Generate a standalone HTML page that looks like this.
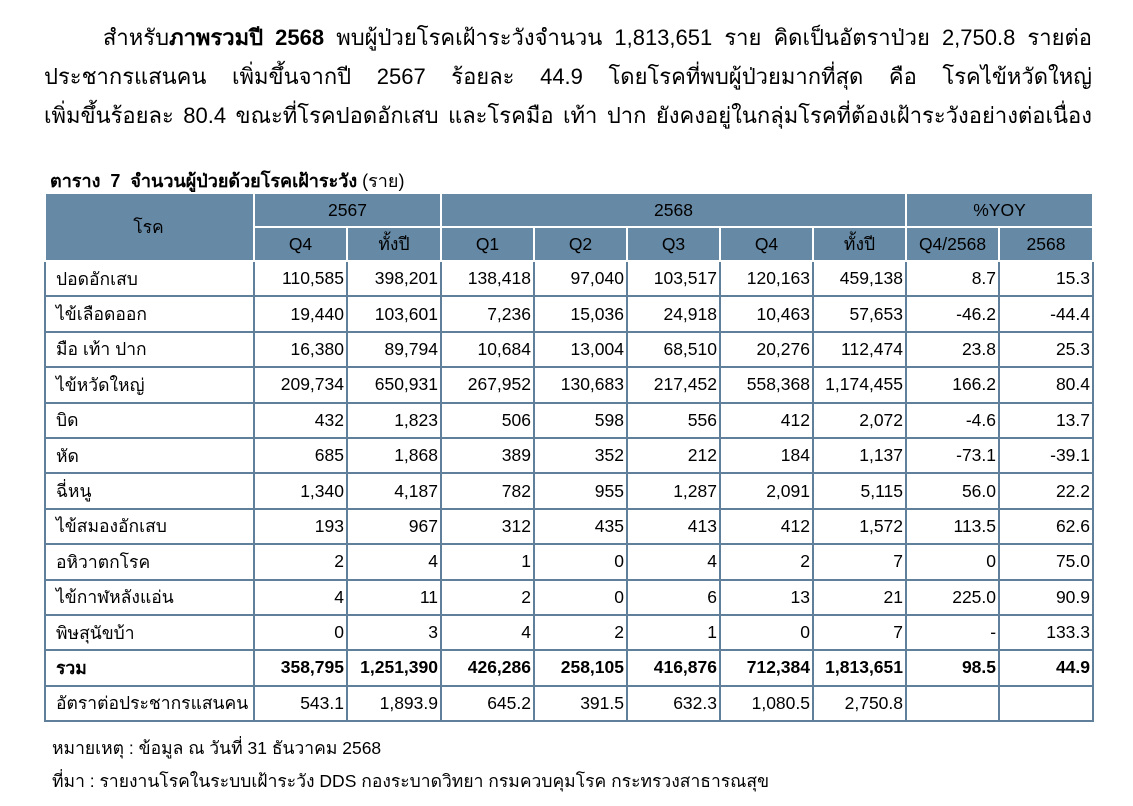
<!DOCTYPE html>
<html><head><meta charset="utf-8"><style>
body{margin:0;width:1133px;height:806px;background:#fff;font-family:"Liberation Sans","DejaVu Sans",sans-serif;color:#000;position:relative;overflow:hidden}
.p{position:absolute;left:44px;width:1048px;font-size:22px;line-height:39px;text-align:justify;top:18px}
.p span.l{display:block;text-align:justify;text-align-last:justify;white-space:nowrap}
.cap{position:absolute;left:50px;top:166px;font-size:18px;font-weight:bold}
.cap i{font-style:normal;font-weight:normal}
table{position:absolute;left:44px;top:192px;width:1048px;border-collapse:collapse;table-layout:fixed;font-size:17.5px}
td,th{border:2px solid #5f7f9a;padding:0 2px;height:33.4px;text-align:right;white-space:nowrap;overflow:hidden}
th{background:#6689a5;font-weight:normal;text-align:center;border-color:#fff;height:32px}
td:first-child{text-align:left;padding-left:10px}
tr.b td{font-weight:bold}
.note{position:absolute;left:52px;font-size:17.5px}
</style></head><body>
<div class="p">
<span class="l" style="padding-left:59px">สำหรับ<b>ภาพรวมปี 2568</b> พบผู้ป่วยโรคเฝ้าระวังจำนวน 1,813,651 ราย คิดเป็นอัตราป่วย 2,750.8 รายต่อ</span>
<span class="l">ประชากรแสนคน เพิ่มขึ้นจากปี 2567 ร้อยละ 44.9 โดยโรคที่พบผู้ป่วยมากที่สุด คือ โรคไข้หวัดใหญ่</span>
<span class="l">เพิ่มขึ้นร้อยละ 80.4 ขณะที่โรคปอดอักเสบ และโรคมือ เท้า ปาก ยังคงอยู่ในกลุ่มโรคที่ต้องเฝ้าระวังอย่างต่อเนื่อง</span>
</div>
<div class="cap">ตาราง &nbsp;7 &nbsp;จำนวนผู้ป่วยด้วยโรคเฝ้าระวัง <i>(ราย)</i></div>
<table>
<colgroup><col style="width:209px"><col style="width:93px"><col style="width:94px"><col style="width:93px"><col style="width:93px"><col style="width:93px"><col style="width:93px"><col style="width:93px"><col style="width:93px"><col style="width:94px"></colgroup>
<tr><th rowspan="2" style="text-align:center;padding-left:0">โรค</th><th colspan="2">2567</th><th colspan="5">2568</th><th colspan="2">%YOY</th></tr>
<tr><th>Q4</th><th>ทั้งปี</th><th>Q1</th><th>Q2</th><th>Q3</th><th>Q4</th><th>ทั้งปี</th><th>Q4/2568</th><th>2568</th></tr>
<tr><td>ปอดอักเสบ</td><td>110,585</td><td>398,201</td><td>138,418</td><td>97,040</td><td>103,517</td><td>120,163</td><td>459,138</td><td>8.7</td><td>15.3</td></tr>
<tr><td>ไข้เลือดออก</td><td>19,440</td><td>103,601</td><td>7,236</td><td>15,036</td><td>24,918</td><td>10,463</td><td>57,653</td><td>-46.2</td><td>-44.4</td></tr>
<tr><td>มือ เท้า ปาก</td><td>16,380</td><td>89,794</td><td>10,684</td><td>13,004</td><td>68,510</td><td>20,276</td><td>112,474</td><td>23.8</td><td>25.3</td></tr>
<tr><td>ไข้หวัดใหญ่</td><td>209,734</td><td>650,931</td><td>267,952</td><td>130,683</td><td>217,452</td><td>558,368</td><td>1,174,455</td><td>166.2</td><td>80.4</td></tr>
<tr><td>บิด</td><td>432</td><td>1,823</td><td>506</td><td>598</td><td>556</td><td>412</td><td>2,072</td><td>-4.6</td><td>13.7</td></tr>
<tr><td>หัด</td><td>685</td><td>1,868</td><td>389</td><td>352</td><td>212</td><td>184</td><td>1,137</td><td>-73.1</td><td>-39.1</td></tr>
<tr><td>ฉี่หนู</td><td>1,340</td><td>4,187</td><td>782</td><td>955</td><td>1,287</td><td>2,091</td><td>5,115</td><td>56.0</td><td>22.2</td></tr>
<tr><td>ไข้สมองอักเสบ</td><td>193</td><td>967</td><td>312</td><td>435</td><td>413</td><td>412</td><td>1,572</td><td>113.5</td><td>62.6</td></tr>
<tr><td>อหิวาตกโรค</td><td>2</td><td>4</td><td>1</td><td>0</td><td>4</td><td>2</td><td>7</td><td>0</td><td>75.0</td></tr>
<tr><td>ไข้กาฬหลังแอ่น</td><td>4</td><td>11</td><td>2</td><td>0</td><td>6</td><td>13</td><td>21</td><td>225.0</td><td>90.9</td></tr>
<tr><td>พิษสุนัขบ้า</td><td>0</td><td>3</td><td>4</td><td>2</td><td>1</td><td>0</td><td>7</td><td>-</td><td>133.3</td></tr>
<tr class="b"><td>รวม</td><td>358,795</td><td>1,251,390</td><td>426,286</td><td>258,105</td><td>416,876</td><td>712,384</td><td>1,813,651</td><td>98.5</td><td>44.9</td></tr>
<tr><td>อัตราต่อประชากรแสนคน</td><td>543.1</td><td>1,893.9</td><td>645.2</td><td>391.5</td><td>632.3</td><td>1,080.5</td><td>2,750.8</td><td></td><td></td></tr>
</table>
<div class="note" style="top:734px">หมายเหตุ : ข้อมูล ณ วันที่ 31 ธันวาคม 2568</div>
<div class="note" style="top:767px">ที่มา : รายงานโรคในระบบเฝ้าระวัง DDS กองระบาดวิทยา กรมควบคุมโรค กระทรวงสาธารณสุข</div>
</body></html>
